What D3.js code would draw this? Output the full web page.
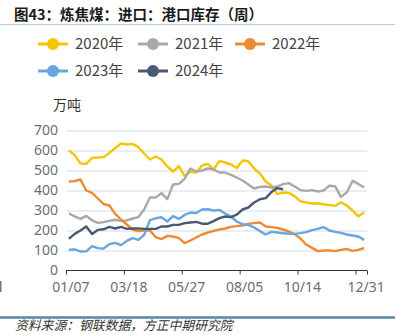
<!DOCTYPE html>
<html><head><meta charset="utf-8">
<script src="https://cdn.jsdelivr.net/npm/d3@7/dist/d3.min.js"></script>
<style>
html,body{margin:0;padding:0;background:#fff;}
svg{display:block;font-family:"Noto Sans CJK SC","Noto Sans",sans-serif;}
</style></head>
<body>
<svg id="c" width="395" height="335"></svg>
<script>
const title = "图43：炼焦煤：进口：港口库存（周）";
const unit = "万吨";
const source = "资料来源：钢联数据，方正中期研究院";
const seriesNames = ["2020年","2021年","2022年","2023年","2024年"];
const colors = ["#F5C400","#A9A9A9","#F08A30","#68A6E0","#4A5A75"];
const xTickLabels = ["01/07","03/18","05/27","08/05","10/14","12/31"];
const xTickLabelWeeks = [0,10,20,30,40,51];
const xTickMarkWeeks = [-0.5,9.5,19.5,29.5,39.5,49.5,51.5];
const yTicks = [0,100,200,300,400,500,600,700];

const v2020 = [600,577,535,533,563,565,567,588,612,635,630,633,617,585,555,570,555,520,495,522,472,495,490,525,533,505,548,540,530,512,550,546,510,485,445,425,382,390,388,372,346,340,335,335,331,327,323,341,325,300,271,290];
const v2021 = [285,271,258,273,251,238,242,248,254,248,250,260,267,305,365,365,387,357,430,433,458,510,495,500,510,505,490,490,478,465,450,430,410,418,420,415,420,432,437,420,402,398,402,395,400,424,421,368,390,448,433,415];
const v2022 = [445,447,455,400,388,360,332,325,283,255,230,205,197,200,200,167,157,173,170,162,137,150,165,180,190,198,205,210,218,222,225,233,237,240,220,217,213,205,195,182,160,130,113,97,100,100,97,103,108,98,103,112];
const v2023 = [103,106,95,96,122,112,110,132,138,127,148,162,153,178,252,261,266,245,272,258,278,290,287,305,306,300,303,285,270,245,232,228,215,197,180,193,190,186,184,183,187,192,202,208,217,200,193,188,180,175,170,153];
const v2024 = [158,183,200,220,183,203,206,218,210,218,208,210,210,208,208,208,220,220,228,228,237,240,243,234,234,247,262,270,267,279,305,315,340,356,362,392,412,406];
const allSeries = [v2020,v2021,v2022,v2023,v2024];

const svg = d3.select("#c");
const x = d3.scaleLinear().domain([-0.5,51.5]).range([66,367]);
const y = d3.scaleLinear().domain([0,700]).range([270.5,130.5]);

// title
svg.append("text").attr("x",14).attr("y",20).attr("font-size",14.5).attr("font-weight","bold")
  .attr("fill","#1a1a1a").text(title);
svg.append("line").attr("x1",0).attr("x2",395).attr("y1",24.5).attr("y2",24.5)
  .attr("stroke","#b9cde0").attr("stroke-width",1);

// legend
const legPos = [[38,44],[138,44],[235,44],[38,71],[138,71]];
seriesNames.forEach((n,i)=>{
  const g = svg.append("g").attr("transform",`translate(${legPos[i][0]},${legPos[i][1]})`);
  g.append("line").attr("x1",0).attr("x2",30).attr("y1",0).attr("y2",0).attr("stroke",colors[i]).attr("stroke-width",3);
  g.append("circle").attr("cx",15).attr("cy",0).attr("r",6).attr("fill",colors[i]);
  g.append("text").attr("x",37).attr("y",0).attr("dy","0.35em").attr("font-size",15).attr("fill","#444").text(n);
});

// unit
svg.append("text").attr("x",53).attr("y",105).attr("dy","0.35em").attr("font-size",14).attr("fill","#333").text(unit);

// grid
const grid = svg.append("g").attr("transform","translate(66,0)")
  .call(d3.axisLeft(y).tickValues(yTicks.filter(t=>t>0)).tickSize(-301).tickFormat(""));
grid.select(".domain").remove();
grid.selectAll("line").attr("stroke","#d5dbe7").attr("stroke-width",1.2);

// y labels
const ya = svg.append("g").attr("transform","translate(58,0)")
  .call(d3.axisLeft(y).tickValues(yTicks).tickSize(0).tickPadding(0));
ya.select(".domain").remove();
ya.selectAll("text").attr("font-size",14).attr("fill","#6a6d78").attr("font-family","'Noto Sans',sans-serif");

// lines
const line = d3.line().x((d,i)=>x(i)).y(d=>y(d));
allSeries.forEach((s,i)=>{
  svg.append("path").datum(s).attr("d",line).attr("fill","none")
    .attr("stroke",colors[i]).attr("stroke-width",2.4).attr("stroke-linejoin","round");
});

// x axis
const xa = svg.append("g").attr("transform","translate(0,270.5)")
  .call(d3.axisBottom(x).tickValues(xTickMarkWeeks).tickSize(4).tickFormat(""));
xa.select(".domain").attr("d","M66,0H367").attr("stroke","#333");
xa.selectAll("line").attr("stroke","#333");
const xl = svg.append("g").attr("transform","translate(1.5,270.5)")
  .call(d3.axisBottom(x).tickValues(xTickLabelWeeks).tickSize(0).tickPadding(12)
    .tickFormat((d,i)=>xTickLabels[i]));
xl.select(".domain").remove();
xl.selectAll("text").attr("font-size",14).attr("fill","#6a6d78").attr("font-family","'Noto Sans',sans-serif");

// left edge fragment
svg.append("rect").attr("x",0).attr("y",281).attr("width",1.5).attr("height",11).attr("fill","#777");

// footer
svg.append("line").attr("x1",0).attr("x2",395).attr("y1",317.5).attr("y2",317.5)
  .attr("stroke","#5a86a6").attr("stroke-width",2.5);
svg.append("text").attr("x",15).attr("y",330).attr("font-size",12.8).attr("font-style","italic")
  .attr("fill","#333").text(source);
</script>
</body></html>
